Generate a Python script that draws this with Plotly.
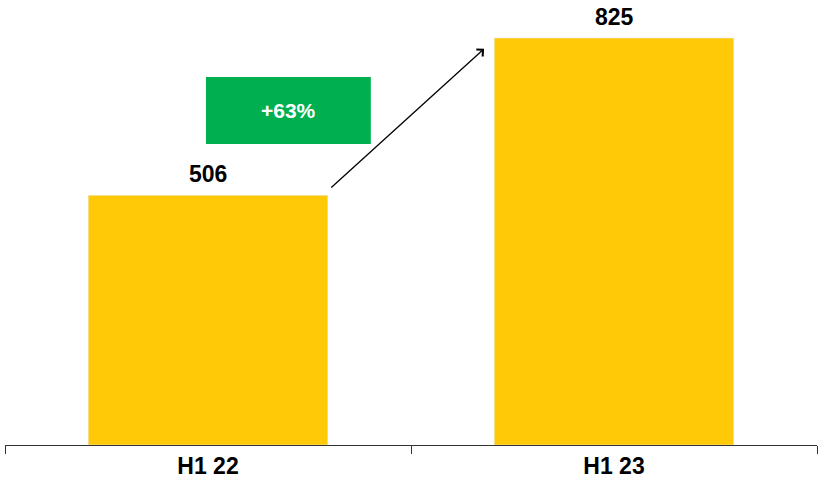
import plotly.graph_objects as go

categories = ["H1 22", "H1 23"]
values = [506, 825]

bar_color = "#FFC907"
green = "#00AF50"
font_family = "Liberation Sans, Arial, sans-serif"

growth = values[1] / values[0] - 1
growth_label = f"+{growth*100:.0f}%"

bar_width = 0.59
y_max = 902

fig = go.Figure()
fig.add_trace(go.Bar(
    x=categories, y=values, marker_color=bar_color, width=bar_width,
    hoverinfo="skip",
))

annotations = []
for c, v in zip(categories, values):
    annotations.append(dict(
        x=c, y=v, xref="x", yref="y", text=f"<b>{v}</b>", showarrow=False,
        yanchor="bottom", yshift=6,
        font=dict(family=font_family, size=23, color="black"),
    ))

# arrow from first bar to second bar
annotations.append(dict(
    x=1 - bar_width / 2 - 0.025, y=values[1] - 22,
    ax=bar_width / 2 + 0.005, ay=values[0] + 13,
    xref="x", yref="y", axref="x", ayref="y",
    text="", showarrow=True, arrowhead=4, arrowsize=1.4, arrowwidth=1.3,
    arrowcolor="black", standoff=0, startstandoff=0,
))

# growth box
box_x0, box_x1 = -0.005, 0.401
box_y0, box_y1 = 610, 746
fig.add_shape(type="rect", xref="x", yref="y",
              x0=box_x0, x1=box_x1, y0=box_y0, y1=box_y1,
              fillcolor=green, line=dict(width=0), layer="above")
annotations.append(dict(
    x=(box_x0 + box_x1) / 2, y=(box_y0 + box_y1) / 2, xref="x", yref="y",
    text=f"<b>{growth_label}</b>", showarrow=False,
    font=dict(family=font_family, size=21, color="white"),
))

fig.update_layout(
    width=821, height=490,
    margin=dict(l=5, r=4, t=0, b=45),
    paper_bgcolor="white", plot_bgcolor="white",
    showlegend=False,
    annotations=annotations,
)
fig.update_xaxes(
    type="category", range=[-0.5, 1.5],
    showline=True, linecolor="#333333", linewidth=1.3,
    ticks="outside", tickson="boundaries", ticklen=8, tickcolor="#333333", tickwidth=1.3,
    tickfont=dict(family=font_family, size=23, color="black"),
    tickprefix="<b>", ticksuffix="</b>",
    showgrid=False, zeroline=False,
)
fig.update_yaxes(
    range=[0, y_max], visible=False, showgrid=False, zeroline=False,
)

fig.write_html("out.html")
